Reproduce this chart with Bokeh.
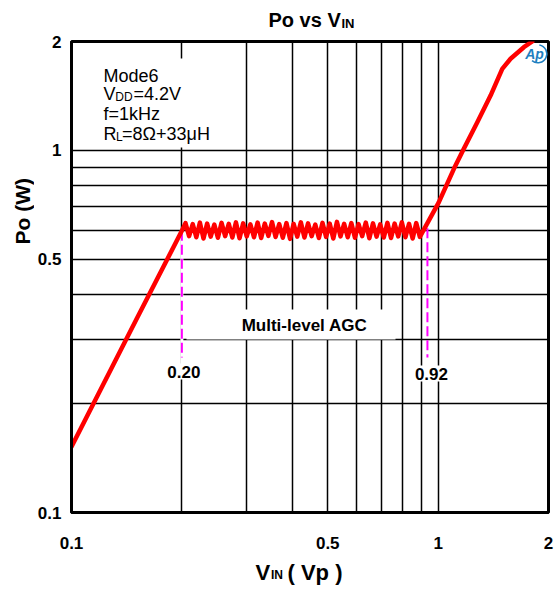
from bokeh.plotting import figure
from bokeh.models import Range1d, FixedTicker, NumeralTickFormatter, Label, BoxAnnotation
from bokeh.layouts import column, row
from bokeh.embed import file_html
from bokeh.resources import INLINE
import math

# ---------------- data ----------------
vin = [0.1, 0.15, 0.2,
       0.2046, 0.2093, 0.2141, 0.2190, 0.2240, 0.2291, 0.2344, 0.2397, 0.2452, 0.2508,
       0.2566, 0.2625, 0.2685, 0.2746, 0.2809, 0.2873, 0.2939, 0.3006, 0.3075, 0.3146,
       0.3218, 0.3291, 0.3367, 0.3444, 0.3523, 0.3603, 0.3686, 0.3770, 0.3857, 0.3945,
       0.4035, 0.4128, 0.4222, 0.4319, 0.4418, 0.4519, 0.4623, 0.4729, 0.4837, 0.4948,
       0.5061, 0.5177, 0.5296, 0.5417, 0.5541, 0.5668, 0.5798, 0.5931, 0.6067, 0.6206,
       0.6348, 0.6493, 0.6642, 0.6794, 0.6950, 0.7109, 0.7272, 0.7439, 0.7609, 0.7783,
       0.7961, 0.8144, 0.8330, 0.8521, 0.8716, 0.8916,
       1.004, 1.104, 1.175, 1.279, 1.390, 1.496, 1.576, 1.713, 1.806]
po = [0.152, 0.340, 0.600,
      0.630, 0.580, 0.626, 0.576, 0.632, 0.571, 0.628, 0.578, 0.624, 0.574,
      0.631, 0.580, 0.627, 0.575, 0.633, 0.572, 0.629, 0.579, 0.625, 0.576,
      0.632, 0.573, 0.628, 0.581, 0.634, 0.577, 0.626, 0.574, 0.630, 0.570,
      0.627, 0.578, 0.633, 0.575, 0.629, 0.580, 0.624, 0.573, 0.631, 0.577,
      0.628, 0.571, 0.635, 0.579, 0.627, 0.576, 0.630, 0.574, 0.626, 0.580,
      0.632, 0.572, 0.629, 0.578, 0.625, 0.575, 0.631, 0.573, 0.628, 0.579,
      0.633, 0.576, 0.627, 0.571, 0.630, 0.577,
      0.719, 0.890, 1.011, 1.197, 1.418, 1.681, 1.792, 1.929, 2.000]

agc_marks = [0.20, 0.935]
agc_labels = ["0.20", "0.92"]
agc_top = [0.600, 0.610]
agc_bottom = [0.268, 0.268]
agc_label_y = [0.245, 0.242]

x_ticks = [0.1, 0.5, 1, 2]
y_ticks = [0.1, 0.5, 1, 2]
grid_vals = [0.2, 0.3, 0.4, 0.5, 0.6, 0.7, 0.8, 0.9, 1.0]

FONT = "Liberation Sans"

# ---------------- page geometry (page pixels) ----------------
PAGE_W = 557
TOP_H = 31          # title strip
LEFT_W = 34         # y-label strip
MID_H = 526         # main figure height
BOT_H = 31          # x-label strip
FRAME_L, FRAME_T, FRAME_R, FRAME_B = 71, 41, 548, 512

MAIN_X0, MAIN_Y0 = LEFT_W, TOP_H
MAIN_W = PAGE_W - LEFT_W
BOT_Y0 = MAIN_Y0 + MID_H


def strip(w, h):
    f = figure(width=w, height=h, x_range=Range1d(0, 1), y_range=Range1d(0, 1),
               x_axis_location=None, y_axis_location=None, min_border=0,
               toolbar_location=None, output_backend="svg", title=None)
    f.grid.visible = False
    f.outline_line_color = None
    f.background_fill_color = "white"
    f.border_fill_color = "white"
    return f


def put(fig, text, x, y, size, style="bold", align="left", angle=0.0,
        color="black"):
    fig.add_layout(Label(x=x, y=y, x_units="screen", y_units="screen",
                         text=text, text_font=FONT, text_font_size=f"{size}px",
                         text_font_style=style, text_align=align,
                         text_baseline="middle", angle=angle, text_color=color))


# ---------------- main figure ----------------
p = figure(width=MAIN_W, height=MID_H, x_axis_type="log", y_axis_type="log",
           x_range=Range1d(0.1, 2), y_range=Range1d(0.1, 2),
           output_backend="svg", toolbar_location=None, title=None,
           min_border_left=FRAME_L - MAIN_X0, min_border_top=FRAME_T - MAIN_Y0,
           min_border_right=PAGE_W - FRAME_R,
           min_border_bottom=BOT_Y0 - FRAME_B)
p.background_fill_color = "white"
p.border_fill_color = "white"
p.outline_line_color = "black"
p.outline_line_width = 3

for ax in (p.xaxis[0], p.yaxis[0]):
    ax.axis_line_color = "black"
    ax.axis_line_width = 3
    ax.major_tick_line_color = None
    ax.minor_tick_line_color = None
    ax.major_tick_out = 0
    ax.major_tick_in = 0
    ax.minor_tick_out = 0
    ax.minor_tick_in = 0
    ax.major_label_text_font = FONT
    ax.major_label_text_font_style = "bold"
    ax.major_label_text_font_size = "17px"
    ax.major_label_text_color = "black"
    ax.formatter = NumeralTickFormatter(format="0.[0]")

p.xaxis[0].ticker = FixedTicker(ticks=x_ticks)
p.yaxis[0].ticker = FixedTicker(ticks=y_ticks)
p.xaxis[0].major_label_standoff = 24
p.yaxis[0].major_label_standoff = 10

p.xgrid[0].ticker = FixedTicker(ticks=grid_vals)
p.ygrid[0].ticker = FixedTicker(ticks=grid_vals)
for g in (p.xgrid[0], p.ygrid[0]):
    g.grid_line_color = "black"
    g.grid_line_width = 1.5
    g.grid_line_alpha = 1.0


def sx(px):
    return px - FRAME_L


def sy(py):
    return FRAME_B - py


# white boxes behind the annotations
for l, r, t, b in [(90, 232, 58, 147), (186, 395, 309, 339)]:
    p.add_layout(BoxAnnotation(left=sx(l), right=sx(r), top=sy(t), bottom=sy(b),
                               left_units="screen", right_units="screen",
                               top_units="screen", bottom_units="screen",
                               fill_color="white", fill_alpha=1.0,
                               line_color=None))

# AGC marker lines
p.segment(x0=agc_marks[:1], y0=agc_top[:1], x1=agc_marks[:1], y1=agc_label_y[:1],
          line_color="white", line_width=3)
p.segment(x0=agc_marks, y0=agc_top, x1=agc_marks, y1=agc_bottom,
          line_color="#ff00ff", line_width=2, line_dash="10 4")

# main curve
p.line(vin, po, line_color="#ff0000", line_width=4.5,
       line_join="round", line_cap="round")

# logo
p.arc(x=[1.87], y=[1.85], radius=9, radius_units="screen",
      start_angle=math.radians(-130), end_angle=math.radians(80),
      line_color="#1f7fc0", line_width=1.5)

for xm, t, yl, off in zip(agc_marks, agc_labels, agc_label_y, [2, 4]):
    p.add_layout(Label(x=xm, y=yl, text=t, x_offset=off, text_font=FONT,
                       text_font_size="17px", text_font_style="bold",
                       text_color="black",
                       text_align="center", text_baseline="middle",
                       background_fill_color="white", padding=2))


def lab(text, px, py, size, **kw):
    put(p, text, sx(px), sy(py), size, **kw)


# conditions box (y = visual centre of the line)
lab("Mode6", 103, 75, 18, style="normal")
lab("V", 103, 93.7, 18, style="normal")
lab("DD", 114.8, 96.7, 12, style="normal")
lab("=4.2V", 133, 93.7, 18, style="normal")
lab("f=1kHz", 103, 113.3, 18, style="normal")
lab("R", 103, 133.3, 18, style="normal")
lab("L", 115.5, 136.5, 12, style="normal")
lab("=8Ω+33μH", 121.5, 133.3, 18, style="normal")

# AGC annotation
lab("Multi-level AGC", 304, 325, 17, align="center")

# logo text
lab("Ap", 534, 53.5, 14, style="bold italic", align="center", color="#1f7fc0")

# ---------------- title strip ----------------
t_fig = strip(PAGE_W, TOP_H)
put(t_fig, "Po vs V", 268, TOP_H - 19.3, 20)
put(t_fig, "IN", 341, TOP_H - 23.3, 13)

# ---------------- y-label strip ----------------
y_fig = strip(LEFT_W, MID_H)
put(y_fig, "Po (W)", 22, BOT_Y0 - 289, 21, align="left", angle=math.pi / 2)

# ---------------- x-label strip ----------------
x_fig = strip(PAGE_W, BOT_H)
BOT_END = BOT_Y0 + BOT_H
put(x_fig, "V", 255, BOT_END - 571.7, 22)
put(x_fig, "IN", 270.5, BOT_END - 574.5, 12)
put(x_fig, "( Vp )", 287, BOT_END - 571.7, 22)

layout = column(t_fig, row(y_fig, p, spacing=0), x_fig, spacing=0)

open("out.html", "w").write(file_html(layout, INLINE))
